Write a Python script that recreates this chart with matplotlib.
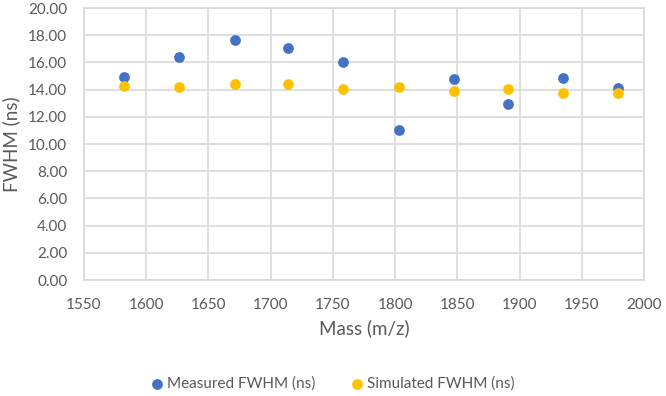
import matplotlib
matplotlib.use("Agg")
import matplotlib.pyplot as plt

plt.rcParams['font.family'] = ['Lato', 'DejaVu Sans']

mass = [1582, 1626, 1671, 1714, 1758, 1803, 1847, 1891, 1935, 1979]
measured = [14.90, 16.42, 17.62, 17.06, 16.00, 11.03, 14.76, 12.92, 14.83, 14.14]
simulated = [14.24, 14.17, 14.41, 14.41, 14.04, 14.17, 13.92, 14.04, 13.77, 13.77]

txt = '#595959'

fig = plt.figure(figsize=(6.66, 3.96), dpi=100)
ax = fig.add_axes([84/666, 1-280/396, 560/666, 272/396])

ax.scatter(mass, measured, s=60, color='#4472C4', label='Measured FWHM (ns)', zorder=3, linewidths=0)
ax.scatter(mass, simulated, s=60, color='#FFC000', label='Simulated FWHM (ns)', zorder=3, linewidths=0)

ax.set_xlim(1550, 2000)
ax.set_ylim(0, 20)
ax.set_xticks(range(1550, 2001, 50))
ax.set_yticks(range(0, 21, 2))
ax.set_yticklabels(['%.2f' % v for v in range(0, 21, 2)])
ax.grid(True, color='#D9D9D9', linewidth=1.2)
ax.set_axisbelow(True)
for s in ax.spines.values():
    s.set_color('#D9D9D9')
    s.set_linewidth(1.2)
ax.tick_params(length=0, colors=txt, labelsize=11)
ax.tick_params(axis='x', pad=13)
ax.tick_params(axis='y', pad=12)

ax.set_xlabel('Mass (m/z)', color=txt, fontsize=13.5, labelpad=5)
ax.set_ylabel('FWHM (ns)', color=txt, fontsize=13.5, labelpad=6)

fig.legend(loc='center', bbox_to_anchor=(0.5, 1-384/396), ncol=2, frameon=False,
           fontsize=11, labelcolor=txt, handlelength=0.7, handletextpad=0.3,
           columnspacing=2.4, markerscale=1.0)

fig.savefig('out.png', dpi=100)
